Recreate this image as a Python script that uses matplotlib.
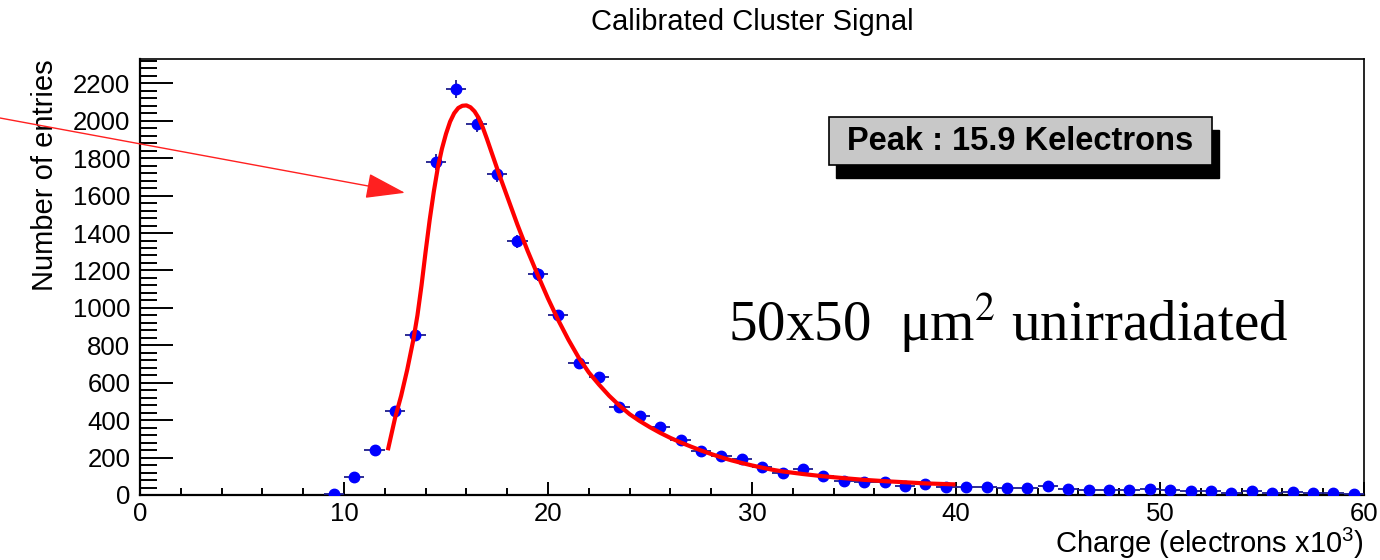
import numpy as np
import matplotlib
matplotlib.use("Agg")
from matplotlib import pyplot as plt
from matplotlib.patches import Rectangle
from matplotlib.ticker import MultipleLocator

plt.rcParams['font.family'] = ['Liberation Sans', 'DejaVu Sans']
plt.rcParams['mathtext.fontset'] = 'custom'
plt.rcParams['mathtext.rm'] = 'Liberation Sans'

# histogram: bin centres (x1000 electrons) and entries
charge = np.arange(9.5, 60.0, 1.0)
entries = [8, 97, 240, 450, 855, 1780, 2170, 1985, 1715, 1355, 1180, 960, 705, 629,
           469, 422, 362, 292, 237, 208, 193, 151, 116, 141, 102, 75, 70, 71, 50, 59,
           41, 41, 41, 36, 36, 46, 30, 25, 25, 25, 30, 27, 20, 20, 9, 23, 9, 16, 9, 9, 5]

# fitted curve
fit_x = [12.17, 12.5, 12.8, 13.1, 13.4, 13.6, 13.8, 14.0, 14.2, 14.4, 14.6, 14.8,
         15.0, 15.2, 15.4, 15.6, 15.8, 16.0, 16.2, 16.4, 16.6, 16.8, 17.0, 17.3,
         17.6, 18.0, 18.5, 19.0, 19.5, 20.0, 20.5, 21.0, 21.5, 22.0, 22.5, 23.0,
         23.5, 24.0, 24.5, 25.0, 25.5, 26.0, 26.5, 27.0, 27.5, 28.0, 28.5, 29.0,
         29.5, 30.0, 30.5, 31.0, 31.5, 32.5, 33.5, 34.5, 35.5, 36.5, 37.5, 38.5, 39.87]
fit_y = [250, 410, 530, 670, 830, 960, 1120, 1300, 1470, 1620, 1750, 1850,
         1930, 1995, 2040, 2068, 2080, 2082, 2072, 2050, 2015, 1965, 1905, 1810,
         1715, 1595, 1445, 1305, 1175, 1050, 935, 830, 735, 655, 590, 530,
         478, 432, 395, 362, 332, 305, 281, 259, 238, 219, 201, 185,
         171, 158, 146, 135, 126, 112, 100, 90, 81, 74, 68, 62, 57]

fig = plt.figure(figsize=(13.8, 5.6), dpi=100)
ax = fig.add_axes([140/1380, 65/560, 1224/1380, 436/560])

ax.errorbar(charge, entries, xerr=0.5, yerr=np.sqrt(entries), fmt='o', color='#0000ff',
            ms=7.5, mec='#0000ff', ecolor='#1c1c8c', elinewidth=1.3, capsize=0, zorder=3)
ax.plot(fit_x, fit_y, color='#ff0000', lw=3, zorder=4, solid_joinstyle='round')

ax.set_xlim(0, 60)
ax.set_ylim(0, 2330)
ax.xaxis.set_major_locator(MultipleLocator(10))
ax.xaxis.set_minor_locator(MultipleLocator(2))
ax.yaxis.set_major_locator(MultipleLocator(200))
ax.yaxis.set_minor_locator(MultipleLocator(40))
ax.tick_params(axis='x', which='major', direction='in', length=9.5, width=1.4, labelsize=18.5, pad=5)
ax.tick_params(axis='x', which='minor', direction='in', length=5, width=1.4)
ax.tick_params(axis='y', which='major', direction='in', length=24, width=1.4, labelsize=18.5, pad=7)
ax.tick_params(axis='y', which='minor', direction='in', length=12, width=1.4)
for s in ['left', 'bottom']:
    ax.spines[s].set_linewidth(1.6)
for s in ['top', 'right']:
    ax.spines[s].set_linewidth(1.2)

ax.set_xlabel('Charge (electrons x10$^{3}$)', fontsize=21, loc='right', labelpad=0)
ax.set_ylabel('Number of entries', fontsize=21, loc='top', labelpad=10)
fig.text(752/1380, 1 - 22/560, 'Calibrated Cluster Signal', fontsize=21, ha='center', va='center')

# peak box with shadow
bx0, by0, bw, bh = 829, 165, 383, 48
fig.patches.append(Rectangle(((bx0 + 7)/1380, 1 - (by0 + 13)/560), bw/1380, bh/560,
                             transform=fig.transFigure, facecolor='black', edgecolor='black'))
fig.patches.append(Rectangle((bx0/1380, 1 - by0/560), bw/1380, bh/560,
                             transform=fig.transFigure, facecolor='#c8c8c8', edgecolor='black', lw=1.2))
fig.text((bx0 + bw/2)/1380, 1 - 142/560, 'Peak : 15.9 Kelectrons', fontsize=23.5,
         fontweight='bold', ha='center', va='center')

ax.text(728/1380, 1 - 341/560, '50x50  \u03bcm$^{2}$ unirradiated', transform=fig.transFigure,
        fontsize=41, family='Liberation Serif', math_fontfamily='stix', ha='left', va='baseline')

# arrow pointing at the rising edge
ax.annotate('', xy=(12.99, 1615), xycoords='data', xytext=(0, 560 - 118), textcoords='figure pixels',
            arrowprops=dict(arrowstyle='-|>,head_length=2.5,head_width=0.8', mutation_scale=10,
                            color='#ff2020', lw=1, shrinkA=0, shrinkB=0),
            annotation_clip=False)

fig.savefig('out.png', dpi=100)
